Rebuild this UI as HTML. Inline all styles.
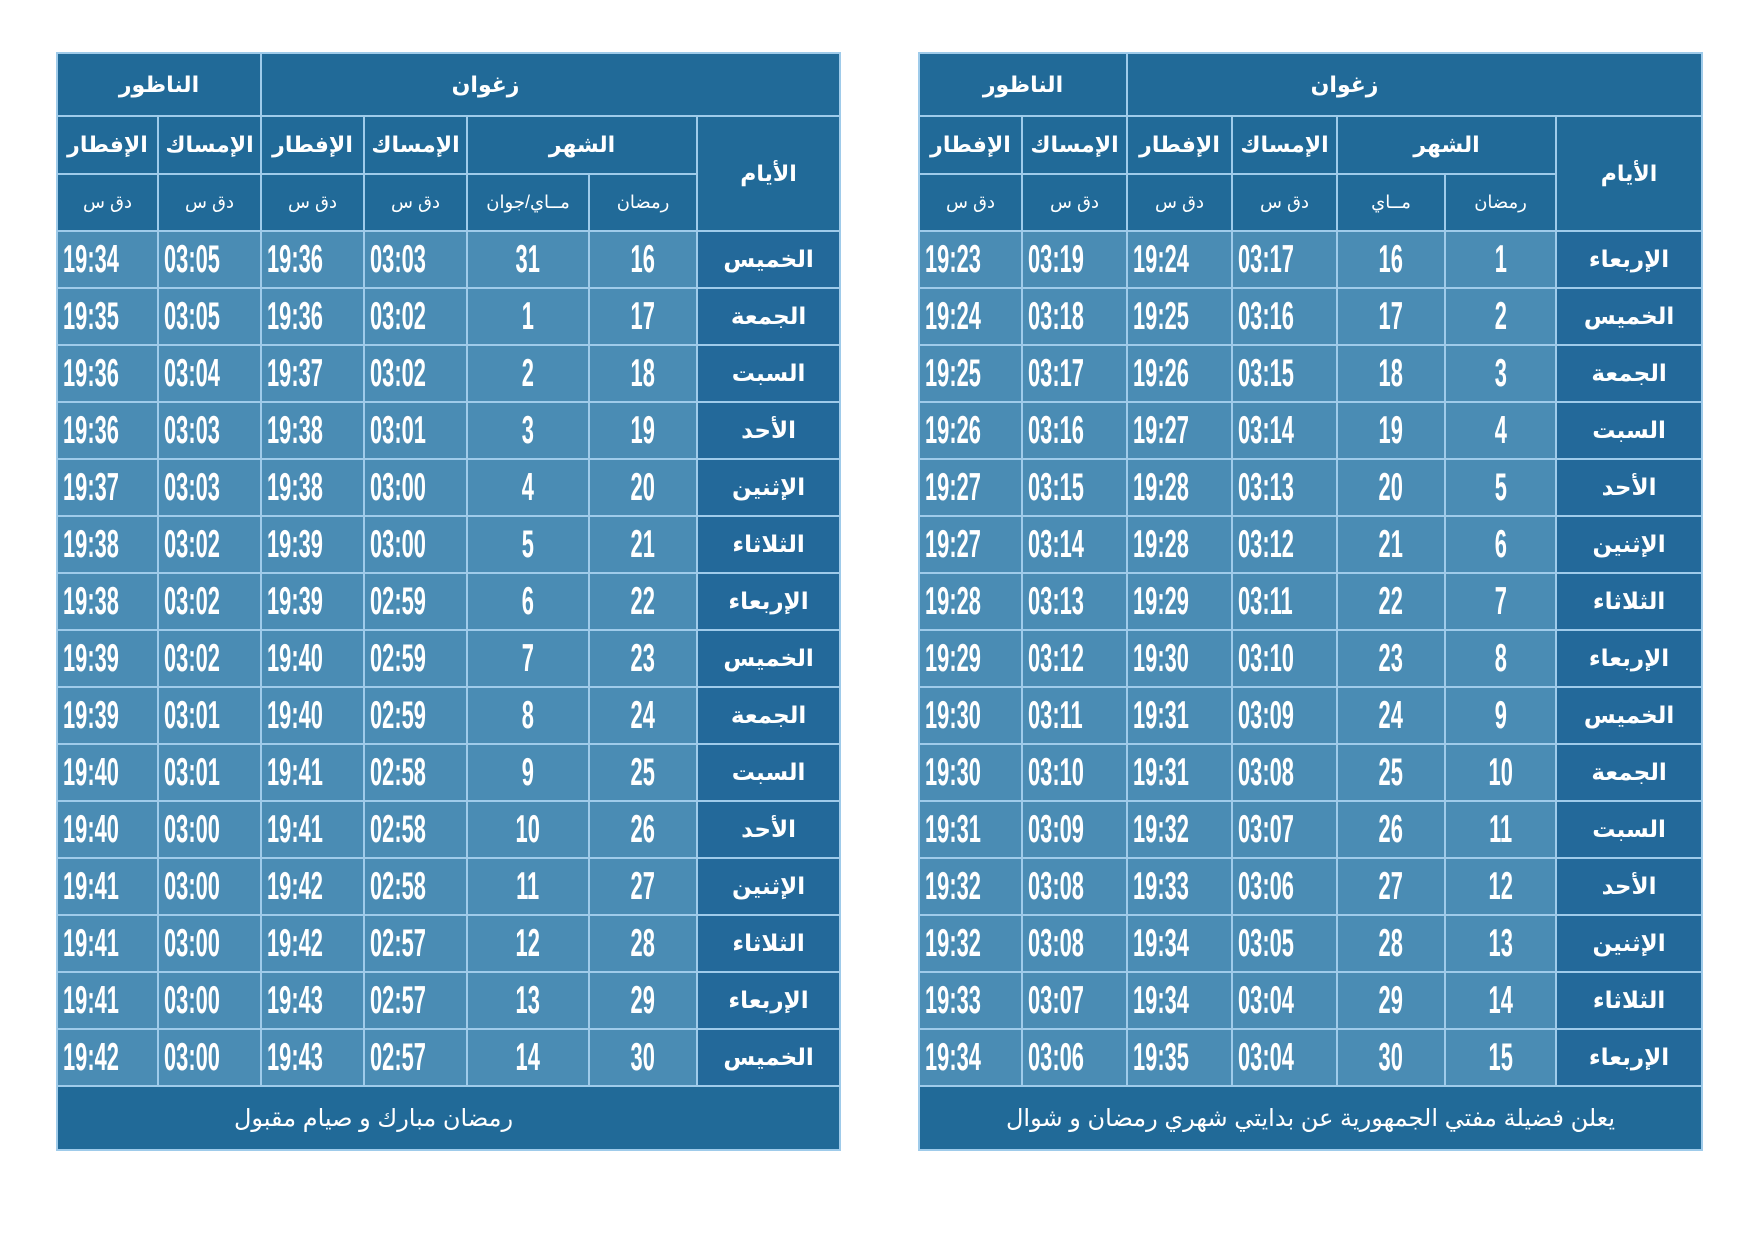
<!DOCTYPE html>
<html><head><meta charset="utf-8">
<style>
html,body{margin:0;padding:0;background:#fff;width:1754px;height:1240px;overflow:hidden}
table{position:absolute;border-collapse:collapse;table-layout:fixed;font-family:"Liberation Sans","DejaVu Sans",sans-serif;color:#fff}
td{border:2px solid #9fcbea;padding:0;overflow:hidden;white-space:nowrap}
.h{background:#216a98;text-align:center;font-weight:bold;font-size:22px}
.s{background:#216a98;text-align:center;font-size:18px}
.d{background:#4a8cb4;font-size:39px;font-weight:bold}
.d span{display:inline-block;transform:scaleX(0.56);transform-origin:left center;padding-left:9px}
.c{text-align:center}
.c span{transform-origin:center;padding-left:0}
.day{background:#23699a;text-align:center;font-weight:bold;font-size:23px}
.f{background:#216a98;text-align:center;font-size:24px}
tr.r{height:57px}
</style></head><body>

<table style="left:56px;top:52px;width:783px">
<colgroup><col style="width:101px"><col style="width:103px"><col style="width:103px"><col style="width:103px"><col style="width:122px"><col style="width:108px"><col style="width:143px"></colgroup>
<tr style="height:63px"><td class="h" colspan="2">الناظور</td><td class="h" colspan="5" style="padding-right:130px">زغوان</td></tr>
<tr style="height:58px"><td class="h">الإفطار</td><td class="h">الإمساك</td><td class="h">الإفطار</td><td class="h">الإمساك</td><td class="h" colspan="2">الشهر</td><td class="h" rowspan="2">الأيام</td></tr>
<tr style="height:57px"><td class="s">دق س</td><td class="s">دق س</td><td class="s">دق س</td><td class="s">دق س</td><td class="s">مــاي/جوان</td><td class="s">رمضان</td></tr>
<tr class="r"><td class="d"><span>19:34</span></td><td class="d"><span>03:05</span></td><td class="d"><span>19:36</span></td><td class="d"><span>03:03</span></td><td class="d c"><span>31</span></td><td class="d c"><span>16</span></td><td class="day">الخميس</td></tr>
<tr class="r"><td class="d"><span>19:35</span></td><td class="d"><span>03:05</span></td><td class="d"><span>19:36</span></td><td class="d"><span>03:02</span></td><td class="d c"><span>1</span></td><td class="d c"><span>17</span></td><td class="day">الجمعة</td></tr>
<tr class="r"><td class="d"><span>19:36</span></td><td class="d"><span>03:04</span></td><td class="d"><span>19:37</span></td><td class="d"><span>03:02</span></td><td class="d c"><span>2</span></td><td class="d c"><span>18</span></td><td class="day">السبت</td></tr>
<tr class="r"><td class="d"><span>19:36</span></td><td class="d"><span>03:03</span></td><td class="d"><span>19:38</span></td><td class="d"><span>03:01</span></td><td class="d c"><span>3</span></td><td class="d c"><span>19</span></td><td class="day">الأحد</td></tr>
<tr class="r"><td class="d"><span>19:37</span></td><td class="d"><span>03:03</span></td><td class="d"><span>19:38</span></td><td class="d"><span>03:00</span></td><td class="d c"><span>4</span></td><td class="d c"><span>20</span></td><td class="day">الإثنين</td></tr>
<tr class="r"><td class="d"><span>19:38</span></td><td class="d"><span>03:02</span></td><td class="d"><span>19:39</span></td><td class="d"><span>03:00</span></td><td class="d c"><span>5</span></td><td class="d c"><span>21</span></td><td class="day">الثلاثاء</td></tr>
<tr class="r"><td class="d"><span>19:38</span></td><td class="d"><span>03:02</span></td><td class="d"><span>19:39</span></td><td class="d"><span>02:59</span></td><td class="d c"><span>6</span></td><td class="d c"><span>22</span></td><td class="day">الإربعاء</td></tr>
<tr class="r"><td class="d"><span>19:39</span></td><td class="d"><span>03:02</span></td><td class="d"><span>19:40</span></td><td class="d"><span>02:59</span></td><td class="d c"><span>7</span></td><td class="d c"><span>23</span></td><td class="day">الخميس</td></tr>
<tr class="r"><td class="d"><span>19:39</span></td><td class="d"><span>03:01</span></td><td class="d"><span>19:40</span></td><td class="d"><span>02:59</span></td><td class="d c"><span>8</span></td><td class="d c"><span>24</span></td><td class="day">الجمعة</td></tr>
<tr class="r"><td class="d"><span>19:40</span></td><td class="d"><span>03:01</span></td><td class="d"><span>19:41</span></td><td class="d"><span>02:58</span></td><td class="d c"><span>9</span></td><td class="d c"><span>25</span></td><td class="day">السبت</td></tr>
<tr class="r"><td class="d"><span>19:40</span></td><td class="d"><span>03:00</span></td><td class="d"><span>19:41</span></td><td class="d"><span>02:58</span></td><td class="d c"><span>10</span></td><td class="d c"><span>26</span></td><td class="day">الأحد</td></tr>
<tr class="r"><td class="d"><span>19:41</span></td><td class="d"><span>03:00</span></td><td class="d"><span>19:42</span></td><td class="d"><span>02:58</span></td><td class="d c"><span>11</span></td><td class="d c"><span>27</span></td><td class="day">الإثنين</td></tr>
<tr class="r"><td class="d"><span>19:41</span></td><td class="d"><span>03:00</span></td><td class="d"><span>19:42</span></td><td class="d"><span>02:57</span></td><td class="d c"><span>12</span></td><td class="d c"><span>28</span></td><td class="day">الثلاثاء</td></tr>
<tr class="r"><td class="d"><span>19:41</span></td><td class="d"><span>03:00</span></td><td class="d"><span>19:43</span></td><td class="d"><span>02:57</span></td><td class="d c"><span>13</span></td><td class="d c"><span>29</span></td><td class="day">الإربعاء</td></tr>
<tr class="r"><td class="d"><span>19:42</span></td><td class="d"><span>03:00</span></td><td class="d"><span>19:43</span></td><td class="d"><span>02:57</span></td><td class="d c"><span>14</span></td><td class="d c"><span>30</span></td><td class="day">الخميس</td></tr>
<tr style="height:64px"><td class="f" colspan="7" style="padding-right:150px">رمضان مبارك و صيام مقبول</td></tr>
</table>

<table style="left:918px;top:52px;width:783px">
<colgroup><col style="width:103px"><col style="width:105px"><col style="width:105px"><col style="width:105px"><col style="width:108px"><col style="width:111px"><col style="width:146px"></colgroup>
<tr style="height:63px"><td class="h" colspan="2">الناظور</td><td class="h" colspan="5" style="padding-right:140px">زغوان</td></tr>
<tr style="height:58px"><td class="h">الإفطار</td><td class="h">الإمساك</td><td class="h">الإفطار</td><td class="h">الإمساك</td><td class="h" colspan="2">الشهر</td><td class="h" rowspan="2">الأيام</td></tr>
<tr style="height:57px"><td class="s">دق س</td><td class="s">دق س</td><td class="s">دق س</td><td class="s">دق س</td><td class="s">مــاي</td><td class="s">رمضان</td></tr>
<tr class="r"><td class="d"><span>19:23</span></td><td class="d"><span>03:19</span></td><td class="d"><span>19:24</span></td><td class="d"><span>03:17</span></td><td class="d c"><span>16</span></td><td class="d c"><span>1</span></td><td class="day">الإربعاء</td></tr>
<tr class="r"><td class="d"><span>19:24</span></td><td class="d"><span>03:18</span></td><td class="d"><span>19:25</span></td><td class="d"><span>03:16</span></td><td class="d c"><span>17</span></td><td class="d c"><span>2</span></td><td class="day">الخميس</td></tr>
<tr class="r"><td class="d"><span>19:25</span></td><td class="d"><span>03:17</span></td><td class="d"><span>19:26</span></td><td class="d"><span>03:15</span></td><td class="d c"><span>18</span></td><td class="d c"><span>3</span></td><td class="day">الجمعة</td></tr>
<tr class="r"><td class="d"><span>19:26</span></td><td class="d"><span>03:16</span></td><td class="d"><span>19:27</span></td><td class="d"><span>03:14</span></td><td class="d c"><span>19</span></td><td class="d c"><span>4</span></td><td class="day">السبت</td></tr>
<tr class="r"><td class="d"><span>19:27</span></td><td class="d"><span>03:15</span></td><td class="d"><span>19:28</span></td><td class="d"><span>03:13</span></td><td class="d c"><span>20</span></td><td class="d c"><span>5</span></td><td class="day">الأحد</td></tr>
<tr class="r"><td class="d"><span>19:27</span></td><td class="d"><span>03:14</span></td><td class="d"><span>19:28</span></td><td class="d"><span>03:12</span></td><td class="d c"><span>21</span></td><td class="d c"><span>6</span></td><td class="day">الإثنين</td></tr>
<tr class="r"><td class="d"><span>19:28</span></td><td class="d"><span>03:13</span></td><td class="d"><span>19:29</span></td><td class="d"><span>03:11</span></td><td class="d c"><span>22</span></td><td class="d c"><span>7</span></td><td class="day">الثلاثاء</td></tr>
<tr class="r"><td class="d"><span>19:29</span></td><td class="d"><span>03:12</span></td><td class="d"><span>19:30</span></td><td class="d"><span>03:10</span></td><td class="d c"><span>23</span></td><td class="d c"><span>8</span></td><td class="day">الإربعاء</td></tr>
<tr class="r"><td class="d"><span>19:30</span></td><td class="d"><span>03:11</span></td><td class="d"><span>19:31</span></td><td class="d"><span>03:09</span></td><td class="d c"><span>24</span></td><td class="d c"><span>9</span></td><td class="day">الخميس</td></tr>
<tr class="r"><td class="d"><span>19:30</span></td><td class="d"><span>03:10</span></td><td class="d"><span>19:31</span></td><td class="d"><span>03:08</span></td><td class="d c"><span>25</span></td><td class="d c"><span>10</span></td><td class="day">الجمعة</td></tr>
<tr class="r"><td class="d"><span>19:31</span></td><td class="d"><span>03:09</span></td><td class="d"><span>19:32</span></td><td class="d"><span>03:07</span></td><td class="d c"><span>26</span></td><td class="d c"><span>11</span></td><td class="day">السبت</td></tr>
<tr class="r"><td class="d"><span>19:32</span></td><td class="d"><span>03:08</span></td><td class="d"><span>19:33</span></td><td class="d"><span>03:06</span></td><td class="d c"><span>27</span></td><td class="d c"><span>12</span></td><td class="day">الأحد</td></tr>
<tr class="r"><td class="d"><span>19:32</span></td><td class="d"><span>03:08</span></td><td class="d"><span>19:34</span></td><td class="d"><span>03:05</span></td><td class="d c"><span>28</span></td><td class="d c"><span>13</span></td><td class="day">الإثنين</td></tr>
<tr class="r"><td class="d"><span>19:33</span></td><td class="d"><span>03:07</span></td><td class="d"><span>19:34</span></td><td class="d"><span>03:04</span></td><td class="d c"><span>29</span></td><td class="d c"><span>14</span></td><td class="day">الثلاثاء</td></tr>
<tr class="r"><td class="d"><span>19:34</span></td><td class="d"><span>03:06</span></td><td class="d"><span>19:35</span></td><td class="d"><span>03:04</span></td><td class="d c"><span>30</span></td><td class="d c"><span>15</span></td><td class="day">الإربعاء</td></tr>
<tr style="height:64px"><td class="f" colspan="7">يعلن فضيلة مفتي الجمهورية عن بدايتي شهري رمضان و شوال</td></tr>
</table>
</body></html>
